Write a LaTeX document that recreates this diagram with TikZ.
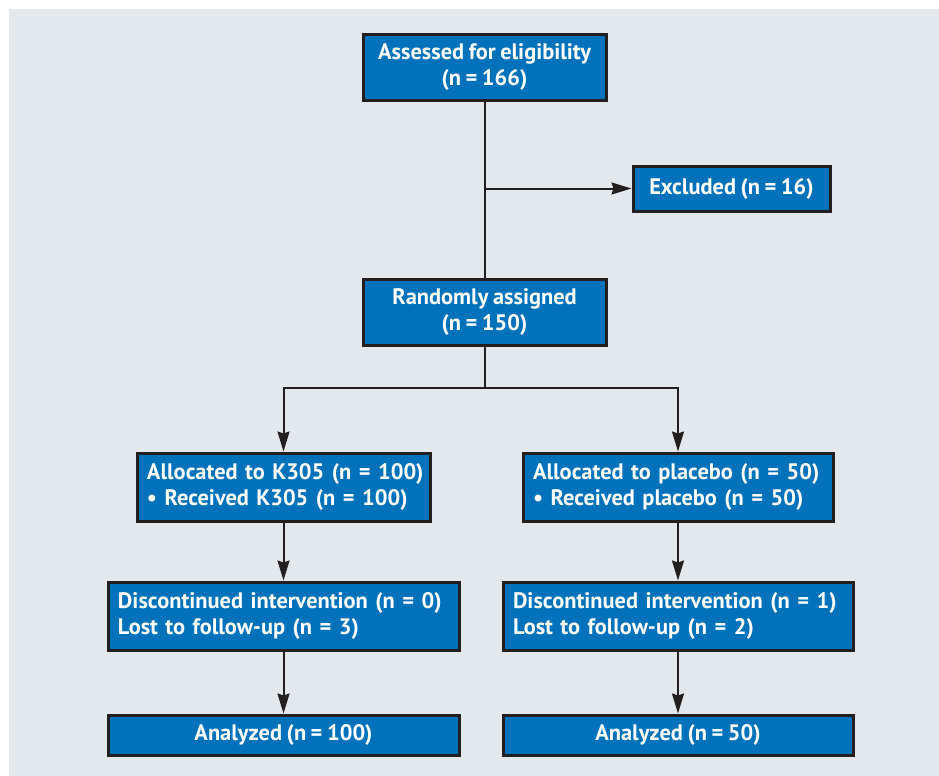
\documentclass[tikz,border=0pt]{standalone}
\usepackage{fontspec}
\setmainfont{PT Sans}[WordSpace=0.8]
\usetikzlibrary{positioning,arrows.meta}

\definecolor{flowblue}{HTML}{0072BC}
\definecolor{edgecol}{HTML}{231F20}
\definecolor{bgcol}{HTML}{E3E8ED}

\begin{document}
\begin{tikzpicture}[x=0.5pt,y=-0.5pt,on grid,
    box/.style={draw=edgecol,line width=1.5pt,fill=flowblue,text=white,
      font=\fontsize{11.2}{13}\selectfont\bfseries,inner xsep=5pt,inner ysep=0pt},
    line/.style={draw=edgecol,line width=1pt},
    arr/.style={line,-{Stealth[length=10pt,width=6pt,inset=1pt]}}]
    \useasboundingbox (0,0) rectangle (939,776);
    \fill[bgcol] (9,9) rectangle (939,776);

    \node[box,minimum width=121.5pt,minimum height=33pt,align=center] (assessed) at (484.5,67) {Assessed for eligibility\\(n = 166)};
    \node[box,minimum width=98.5pt,minimum height=22.5pt] (excluded) [below right=60.75pt and 123.5pt of assessed] {Excluded (n = 16)};
    \node[box,minimum width=121.5pt,minimum height=33pt,align=center] (random) [below=122.5pt of assessed] {Randomly assigned\\(n = 150)};

    \node[box,text width=136.5pt,minimum height=34pt,align=left] (allock) [below left=87.5pt and 100.5pt of random] {\mbox{Allocated to K305 (n = 100)}\\\mbox{\textbullet{} Received K305 (n = 100)}};
    \node[box,text width=145pt,minimum height=34pt,align=left] (allocp) [below right=87.5pt and 96.75pt of random] {\mbox{Allocated to placebo (n = 50)}\\\mbox{\textbullet{} Received placebo (n = 50)}};

    \node[box,text width=165.5pt,minimum height=34pt,align=left] (discl) [below=64.5pt of allock] {\mbox{Discontinued intervention (n = 0)}\\\mbox{Lost to follow-up (n = 3)}};
    \node[box,text width=165pt,minimum height=34pt,align=left] (discr) [below=64.5pt of allocp] {\mbox{Discontinued intervention (n = 1)}\\\mbox{Lost to follow-up (n = 2)}};

    \node[box,minimum width=175.5pt,minimum height=20pt] (analyzedl) [below=59.5pt of discl] {Analyzed (n = 100)};
    \node[box,minimum width=175pt,minimum height=20pt] (analyzedr) [below=59.5pt of discr] {Analyzed (n = 50)};

    \coordinate (exclsplit) at (assessed.south |- excluded.west);
    \coordinate (armsplit) at (random.south |- 0,388);

    \path[line] (assessed) -- (random);
    \path[arr] (exclsplit) -- (excluded);
    \path[line] (random) -- (armsplit);
    \path[arr] (armsplit) -| (allock);
    \path[arr] (armsplit) -| (allocp);
    \path[arr] (allock) -- (discl);
    \path[arr] (allocp) -- (discr);
    \path[arr] (discl) -- (analyzedl);
    \path[arr] (discr) -- (analyzedr);
\end{tikzpicture}
\end{document}
